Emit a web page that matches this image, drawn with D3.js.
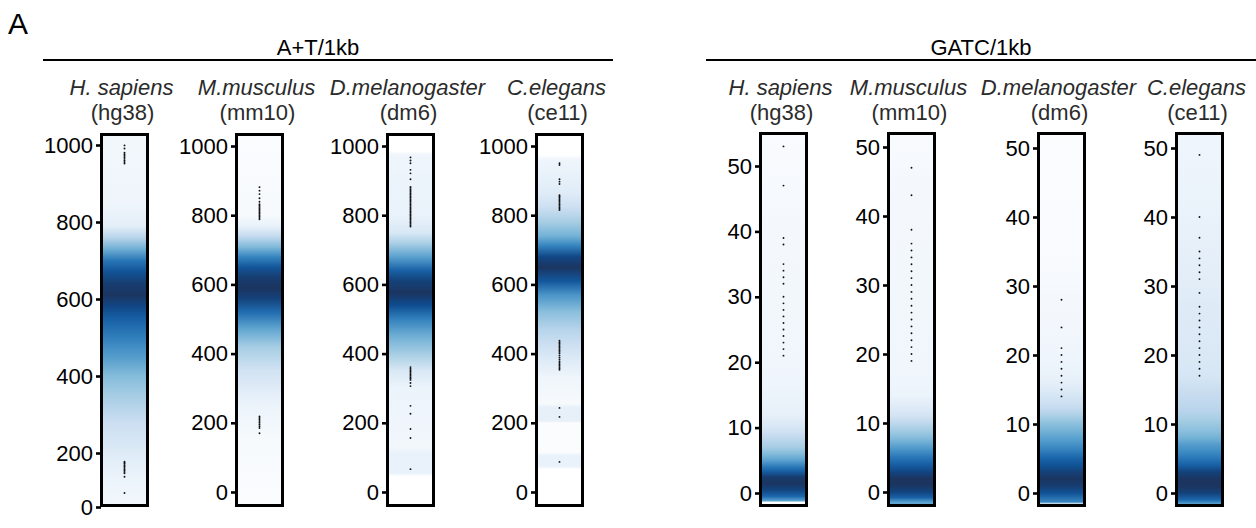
<!DOCTYPE html>
<html>
<head>
<meta charset="utf-8">
<script src="https://cdn.jsdelivr.net/npm/d3@7"></script>
<style>
  body { margin: 0; background: #fff; }
  text { font-family: "Liberation Sans", Arial, sans-serif; }
</style>
</head>
<body>
<div id="dataviz"></div>
<script>
// labels
var species = ["H. sapiens", "M.musculus", "D.melanogaster", "C.elegans"];
var assemblies = ["(hg38)", "(mm10)", "(dm6)", "(ce11)"];
var groupTitles = ["A+T/1kb", "GATC/1kb"];
var atTicks = [0, 200, 400, 600, 800, 1000];
var gatcTicks = [0, 10, 20, 30, 40, 50];

// density along the strip: [value, relative density 0..1]
var atDensityHg38 = [[0,0.03],[100,0.05],[200,0.1],[280,0.18],[350,0.3],[400,0.4],[450,0.52],[500,0.63],[550,0.76],[580,0.88],[610,1.0],[640,0.95],[670,0.82],[700,0.66],[730,0.45],[760,0.24],[790,0.08],[850,0.04],[1000,0.03],[1040,0.03]];
var atDensityMm10 = [[-40,0.01],[150,0.02],[250,0.05],[350,0.15],[420,0.3],[470,0.48],[520,0.7],[560,0.92],[590,1.0],[620,0.95],[650,0.8],[680,0.6],[710,0.4],[740,0.2],[770,0.06],[800,0.02],[1040,0.01]];
var atDensityDm6 = [[-40,0],[45,0],[55,0.06],[110,0.06],[130,0.03],[200,0.04],[300,0.05],[350,0.12],[400,0.3],[450,0.45],[500,0.62],[540,0.85],[575,1.0],[610,0.92],[640,0.75],[680,0.5],[720,0.28],[750,0.12],[800,0.06],[900,0.05],[975,0.04],[985,0],[1040,0]];
var atDensityCe11 = [[-40,0],[65,0],[75,0.06],[105,0.06],[115,0.01],[200,0.01],[205,0.07],[245,0.07],[255,0.02],[330,0.04],[380,0.1],[430,0.18],[470,0.25],[520,0.38],[570,0.55],[610,0.8],[650,1.0],[680,0.88],[710,0.62],[740,0.44],[780,0.3],[820,0.18],[860,0.1],[920,0.06],[960,0.04],[975,0],[1040,0]];

var gatcDensityHg38 = [[-2.3,0],[-1.4,0],[-1.2,0.5],[-0.5,0.72],[0.5,0.9],[1.5,1.0],[2.5,0.95],[3.2,0.78],[4,0.65],[5,0.5],[6,0.4],[7,0.3],[8,0.24],[9,0.18],[10,0.13],[11,0.1],[12,0.07],[15,0.05],[20,0.035],[30,0.03],[40,0.025],[56,0.015]];
var gatcDensityMm10 = [[-2.3,0.45],[-1.5,0.5],[-0.8,0.75],[0,0.9],[1,1.0],[2,1.0],[3,0.88],[4,0.76],[5,0.66],[6,0.56],[7,0.47],[8,0.38],[9,0.3],[10,0.22],[11,0.15],[12,0.11],[13,0.08],[14,0.05],[18,0.035],[30,0.03],[45,0.025],[53,0.015]];
var gatcDensityDm6 = [[-2.2,0.05],[-1.6,0.05],[-1.3,0.6],[0,0.82],[1,0.95],[2,1.0],[3,0.93],[4,0.82],[5,0.74],[6,0.64],[7,0.56],[8,0.5],[9,0.44],[10,0.38],[11,0.3],[12,0.22],[13,0.17],[14,0.14],[15,0.1],[16.5,0.07],[18,0.05],[22,0.035],[28,0.025],[35,0.015],[53,0.01]];
var gatcDensityCe11 = [[-2.3,0.42],[-1.6,0.5],[-1,0.72],[0,0.92],[1,1.0],[2,1.0],[3,0.92],[4,0.76],[5,0.66],[6,0.58],[7,0.52],[8,0.44],[9,0.38],[10,0.33],[11,0.28],[12,0.24],[14,0.2],[15.5,0.17],[17,0.13],[19,0.12],[23,0.11],[27,0.1],[32,0.08],[38,0.065],[45,0.05],[53,0.04]];

// outlier points drawn down the middle of each strip
var atOutHg38 = [52,112,125,130,135,140,145,150,155,160,164,168,952,956,960,964,968,972,976,980,991,999];
var atOutMm10 = [170,185,190,195,200,205,210,214,218,788,792,796,800,804,808,812,816,820,824,828,832,839,849,861,871,881];
var atOutDm6 = [66,156,182,226,249,306,315,324,328,332,336,340,344,348,352,356,361,767,771,775,779,783,787,791,795,799,803,807,811,815,819,823,827,831,835,839,843,847,851,855,859,863,867,871,875,879,882,904,921,931,950,958,967];
var atOutCe11 = [87,217,243,353,357,361,365,369,373,377,383,389,395,401,405,409,413,417,421,425,429,433,437,815,819,823,827,831,835,839,843,847,851,855,858,890,897,904,945,950];

var gatcOutHg38 = [21,22,23,24,25,26,27,28,29,30,32,33,34,35,38,39,47,53];
var gatcOutMm10 = [19,20,21,22,23,24,25,26,27,28,29,30,31,32,33,34,35,36,38,43,47];
var gatcOutDm6 = [14,15,16,17,18,19,20,21,24,28];
var gatcOutCe11 = [17,18,19,20,21,22,23,24,25,26,27,29,31,32,33,34,35,37,40,49];

var W = 1256, H = 528;
var svg = d3.select("#dataviz").append("svg")
    .attr("width", W).attr("height", H)
    .attr("viewBox", "0 0 " + W + " " + H);
var defs = svg.append("defs");

var color = d3.scaleLinear()
    .domain([0, 0.03, 0.1, 0.2, 0.3, 0.4, 0.5, 0.6, 0.72, 0.85, 1])
    .range(["#ffffff","#f2f7fc","#deebf7","#c6dbef","#a6cde4","#84bcdb","#5ba2cf","#3786c0","#1b67ad","#0e4c8f","#1b3560"]);

// panel layout (pixel positions)
var panels = [
  { x: 100, top: 133, bottom: 507, dom: [0, 200, 1000], rng: [507, 453, 145], ticks: atTicks, dens: atDensityHg38, out: atOutHg38 },
  { x: 235, top: 133, bottom: 507, dom: [0, 1000], rng: [492, 146], ticks: atTicks, dens: atDensityMm10, out: atOutMm10 },
  { x: 386, top: 133, bottom: 507, dom: [0, 1000], rng: [492, 146], ticks: atTicks, dens: atDensityDm6, out: atOutDm6 },
  { x: 535, top: 133, bottom: 507, dom: [0, 1000], rng: [492, 146], ticks: atTicks, dens: atDensityCe11, out: atOutCe11 },
  { x: 759, top: 132, bottom: 507, dom: [0, 50], rng: [493, 166], ticks: gatcTicks, dens: gatcDensityHg38, out: gatcOutHg38 },
  { x: 887, top: 132, bottom: 507, dom: [0, 50], rng: [492, 147], ticks: gatcTicks, dens: gatcDensityMm10, out: gatcOutMm10 },
  { x: 1037, top: 132, bottom: 507, dom: [0, 50], rng: [493, 148], ticks: gatcTicks, dens: gatcDensityDm6, out: gatcOutDm6 },
  { x: 1175, top: 132, bottom: 507, dom: [0, 50], rng: [493, 148], ticks: gatcTicks, dens: gatcDensityCe11, out: gatcOutCe11 }
];
var boxW = 49, bw = 3;

// panel letter
svg.append("text").attr("x", 8).attr("y", 34)
    .style("font-size", "30px").attr("fill", "#000").text("A");

// group headers
var groups = [{ x1: 43, x2: 613, cx: 318 }, { x1: 706, x2: 1256, cx: 981 }];
groups.forEach(function (gr, i) {
  svg.append("line").attr("x1", gr.x1).attr("x2", gr.x2)
      .attr("y1", 60).attr("y2", 60)
      .attr("stroke", "#000").attr("stroke-width", 2);
  svg.append("text").attr("x", gr.cx).attr("y", 55)
      .attr("text-anchor", "middle").style("font-size", "22px")
      .attr("fill", "#000").text(groupTitles[i]);
});

panels.forEach(function (p, i) {
  var y = d3.scaleLinear().domain(p.dom).range(p.rng);
  var g = svg.append("g");
  var cx = p.x + boxW / 2;

  // species labels
  g.append("text").attr("x", cx - 3).attr("y", 95)
      .attr("text-anchor", "middle").style("font-size", "22px")
      .style("font-style", "italic").attr("fill", "#2b2b2b")
      .text(species[i % 4]);
  g.append("text").attr("x", cx - 2).attr("y", 120)
      .attr("text-anchor", "middle").style("font-size", "22px")
      .attr("fill", "#2b2b2b").text(assemblies[i % 4]);

  // density gradient
  var gid = "dens" + i;
  var grad = defs.append("linearGradient").attr("id", gid)
      .attr("gradientUnits", "userSpaceOnUse")
      .attr("x1", 0).attr("x2", 0)
      .attr("y1", p.top).attr("y2", p.bottom);
  var stops = p.dens.slice().sort(function (a, b) { return b[0] - a[0]; });
  grad.selectAll("stop").data(stops).enter().append("stop")
      .attr("offset", function (d) {
        var o = (y(d[0]) - p.top) / (p.bottom - p.top);
        return Math.max(0, Math.min(1, o));
      })
      .attr("stop-color", function (d) { return color(d[1]); });

  g.append("rect")
      .attr("x", p.x + bw / 2).attr("y", p.top + bw / 2)
      .attr("width", boxW - bw).attr("height", p.bottom - p.top - bw)
      .attr("fill", "url(#" + gid + ")");

  // outliers
  g.selectAll("circle").data(p.out).enter().append("circle")
      .attr("cx", cx)
      .attr("cy", function (d) { return y(d); })
      .attr("r", 0.95)
      .attr("fill", "#111");

  // frame
  g.append("rect")
      .attr("x", p.x + bw / 2).attr("y", p.top + bw / 2)
      .attr("width", boxW - bw).attr("height", p.bottom - p.top - bw)
      .attr("fill", "none").attr("stroke", "#000").attr("stroke-width", bw);

  // y axis
  var ax = g.append("g")
      .attr("transform", "translate(" + (p.x + 1) + ",0)")
      .call(d3.axisLeft(y).tickValues(p.ticks).tickFormat(d3.format("d"))
        .tickSize(5).tickPadding(3));
  ax.select(".domain").remove();
  ax.selectAll(".tick line").attr("stroke", "#000").attr("stroke-width", 2.6);
  ax.selectAll(".tick text").attr("fill", "#000")
      .style("font-size", "22px")
      .style("font-family", "'Liberation Sans', Arial, sans-serif");
});
</script>
</body>
</html>
